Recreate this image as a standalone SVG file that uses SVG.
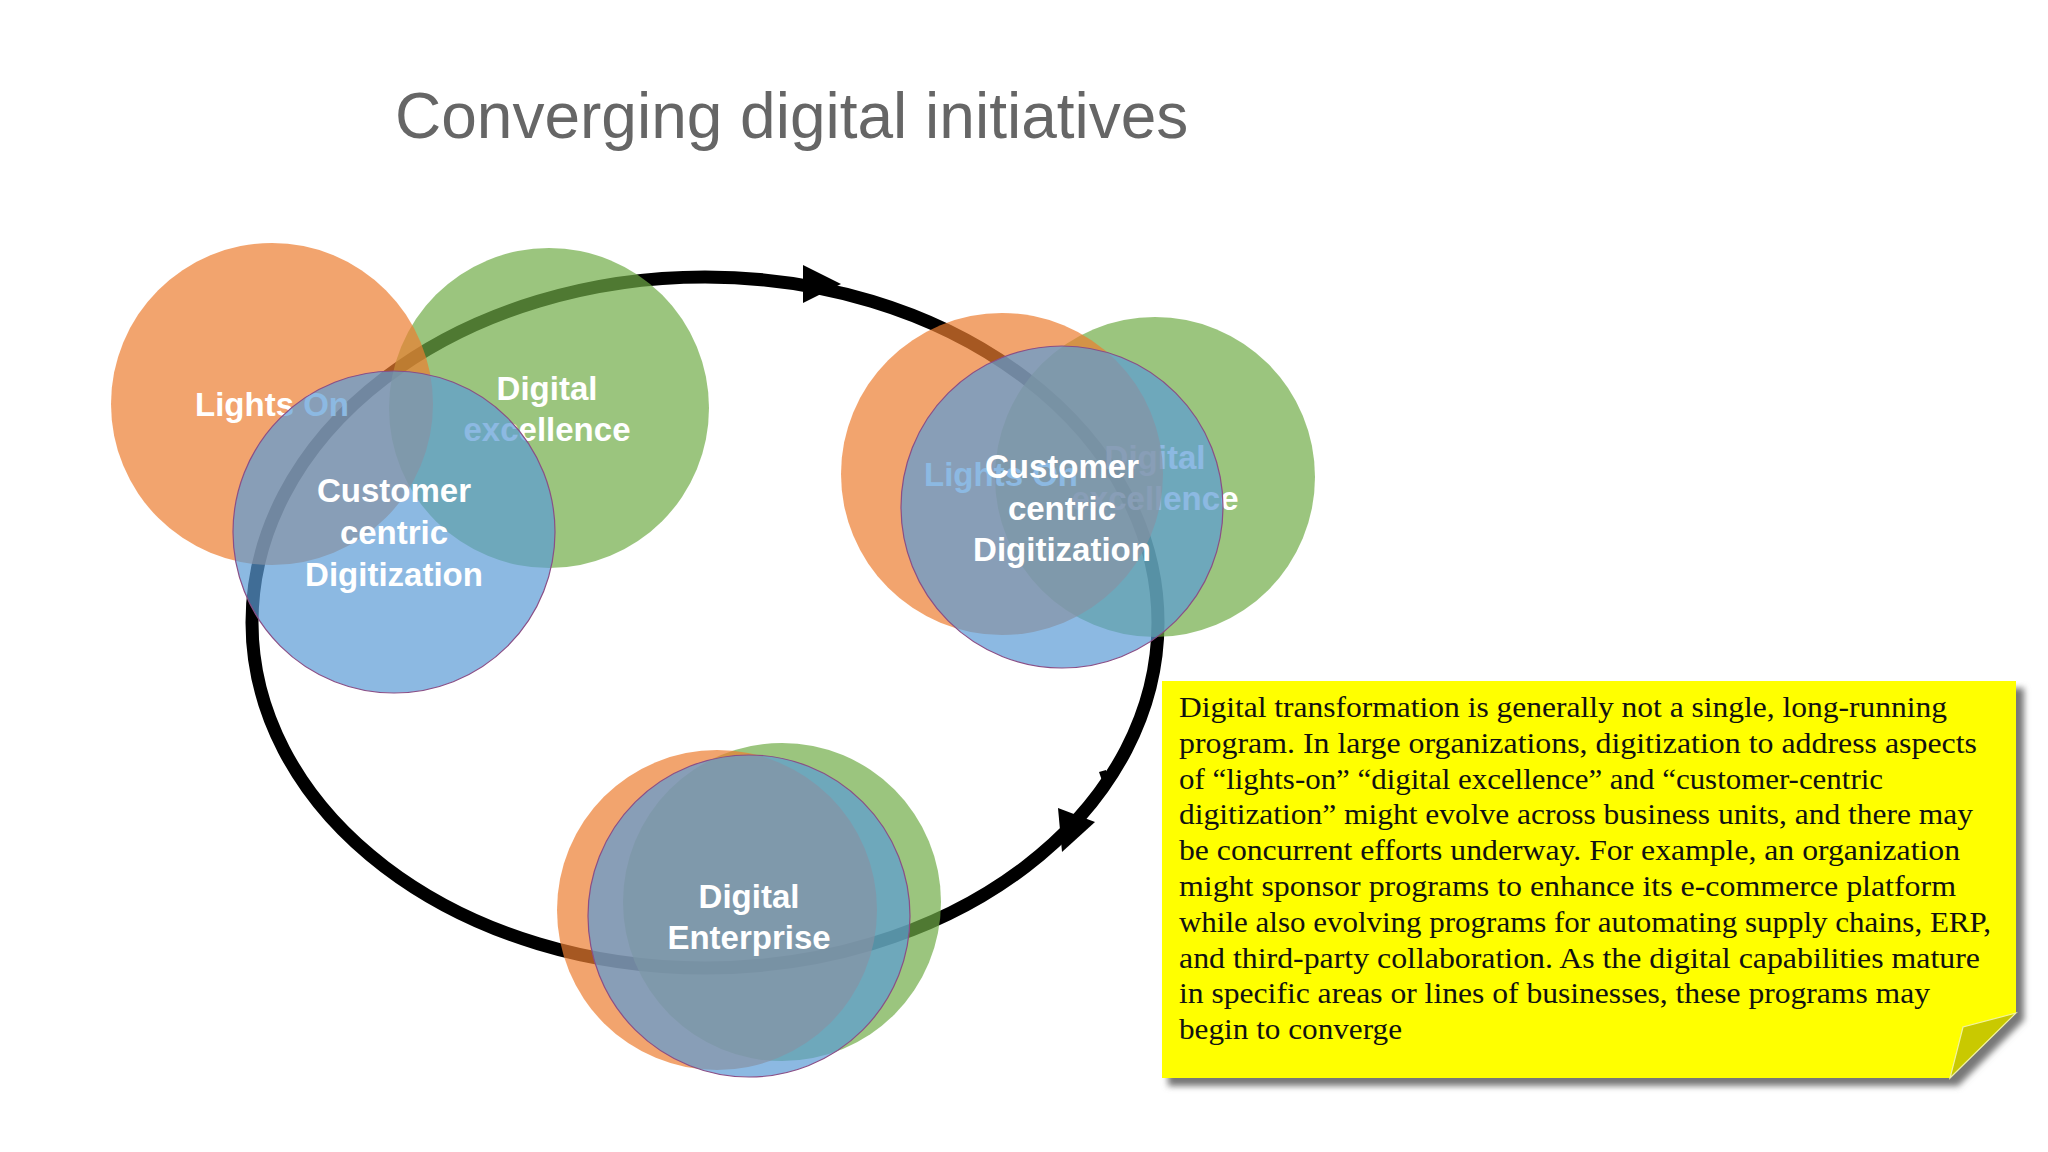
<svg xmlns="http://www.w3.org/2000/svg" width="2048" height="1152" viewBox="0 0 2048 1152">
<style>
.or{fill:#ED7D31;fill-opacity:0.7}
.gr{fill:#70AD47;fill-opacity:0.7}
.bl{fill:#5B9BD5;fill-opacity:0.7;stroke:#8a4f86;stroke-width:1.2}
.lbl{font-family:"Liberation Sans",Arial,sans-serif;font-weight:bold;font-size:33px;fill:#fff;text-anchor:middle}
.title{font-family:"Liberation Sans",Arial,sans-serif;font-size:64px;fill:#666}
.note{font-family:"Liberation Serif","Times New Roman",serif;font-size:29px;fill:#111}
</style>
<defs>
<filter id="sh" x="-5%" y="-5%" width="110%" height="115%"><feGaussianBlur stdDeviation="3"/></filter>
</defs>
<rect width="2048" height="1152" fill="#fff"/>
<text class="title" x="395" y="138">Converging digital initiatives</text>

<g id="connectors">
<ellipse cx="705" cy="622.5" rx="453" ry="345.5" fill="none" stroke="#000" stroke-width="13"/>
<polygon points="803,265 841,284 803,303" fill="#000"/>
<polygon points="1058,808 1095,822 1062,852" fill="#000"/>
<polygon points="1099,772 1106,770 1106,792" fill="#000"/>
</g>

<g id="cluster-left">
<circle class="gr" cx="549" cy="408" r="160"/>
<text class="lbl" x="547" y="400">Digital</text>
<text class="lbl" x="547" y="441">excellence</text>
<circle class="or" cx="272" cy="404" r="161"/>
<text class="lbl" x="272" y="416">Lights On</text>
<circle class="bl" cx="394" cy="532" r="161"/>
<text class="lbl" x="394" y="502">Customer</text>
<text class="lbl" x="394" y="544">centric</text>
<text class="lbl" x="394" y="586">Digitization</text>
</g>

<g id="cluster-right">
<circle class="gr" cx="1155" cy="477" r="160"/>
<text class="lbl" x="1155" y="469">Digital</text>
<text class="lbl" x="1155" y="510">excellence</text>
<circle class="or" cx="1002" cy="474" r="161"/>
<text class="lbl" x="1001" y="486">Lights On</text>
<circle class="bl" cx="1062" cy="507" r="161"/>
<text class="lbl" x="1062" y="478">Customer</text>
<text class="lbl" x="1062" y="520">centric</text>
<text class="lbl" x="1062" y="561">Digitization</text>
</g>

<g id="cluster-bottom">
<circle class="gr" cx="782" cy="902" r="159"/>
<circle class="or" cx="717" cy="910" r="160"/>
<circle class="bl" cx="749" cy="916" r="161"/>
<text class="lbl" x="749" y="908">Digital</text>
<text class="lbl" x="749" y="949">Enterprise</text>
</g>

<g id="note">
<polygon points="1168,688 2024,688 2024,1020 1958,1086 1168,1086" fill="#777" filter="url(#sh)"/>
<polygon points="1162,681 2016,681 2016,1013 1950,1078 1162,1078" fill="#FFFF00"/>
<polygon points="2016,1013 1963,1027 1950,1078" fill="#C9C900" stroke="#f2f2a0" stroke-width="1.2"/>
<text class="note" x="1179" y="717" textLength="768" lengthAdjust="spacingAndGlyphs">Digital transformation is generally not a single, long-running</text>
<text class="note" x="1179" y="752.8" textLength="798" lengthAdjust="spacingAndGlyphs">program. In large organizations, digitization to address aspects</text>
<text class="note" x="1179" y="788.6" textLength="704" lengthAdjust="spacingAndGlyphs">of “lights-on” “digital excellence” and “customer-centric</text>
<text class="note" x="1179" y="824.4" textLength="794" lengthAdjust="spacingAndGlyphs">digitization” might evolve across business units, and there may</text>
<text class="note" x="1179" y="860.2" textLength="781" lengthAdjust="spacingAndGlyphs">be concurrent efforts underway. For example, an organization</text>
<text class="note" x="1179" y="896" textLength="777" lengthAdjust="spacingAndGlyphs">might sponsor programs to enhance its e-commerce platform</text>
<text class="note" x="1179" y="931.8" textLength="812" lengthAdjust="spacingAndGlyphs">while also evolving programs for automating supply chains, ERP,</text>
<text class="note" x="1179" y="967.6" textLength="801" lengthAdjust="spacingAndGlyphs">and third-party collaboration. As the digital capabilities mature</text>
<text class="note" x="1179" y="1003.4" textLength="751" lengthAdjust="spacingAndGlyphs">in specific areas or lines of businesses, these programs may</text>
<text class="note" x="1179" y="1039.2" textLength="223" lengthAdjust="spacingAndGlyphs">begin to converge</text>
</g>
</svg>
